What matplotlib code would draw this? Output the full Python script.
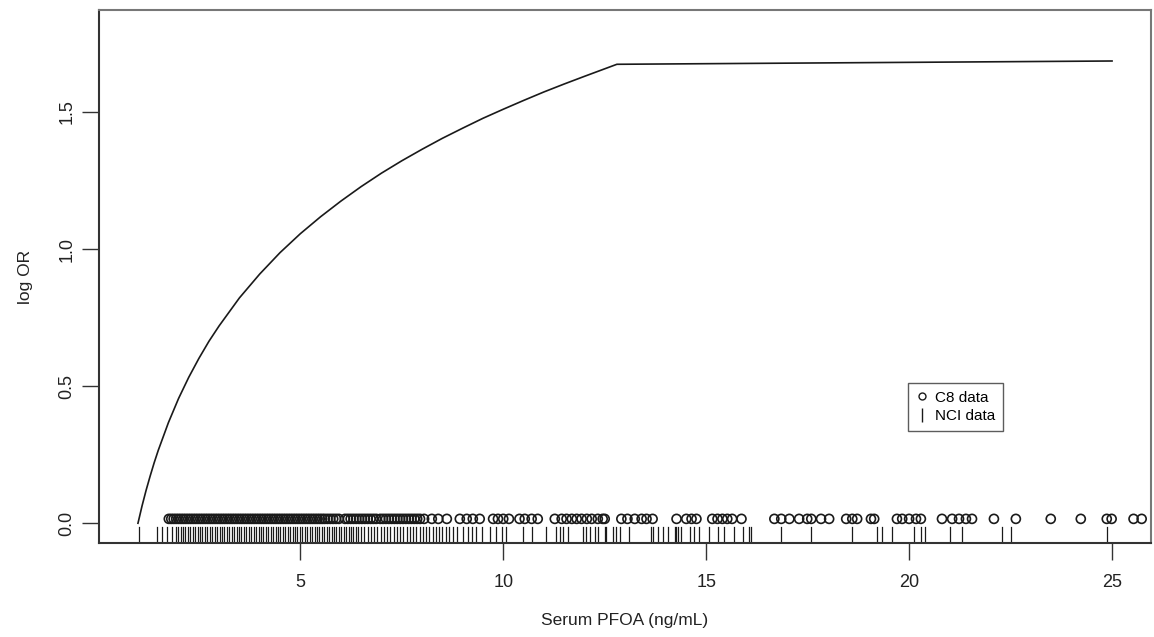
import matplotlib
matplotlib.use("Agg")
import matplotlib.pyplot as plt
from matplotlib.lines import Line2D

plt.rcParams['font.family'] = ['Liberation Sans', 'DejaVu Sans']

# fitted curve (log OR vs serum PFOA)
curve_x = [1.0, 1.1, 1.2, 1.3, 1.4, 1.5, 1.75, 2.0, 2.25, 2.5, 2.75, 3.0, 3.5, 4.0, 4.5, 5.0, 5.5,
           6.0, 6.5, 7.0, 7.5, 8.0, 8.5, 9.0, 9.5, 10.0, 10.5, 11.0, 11.5, 12.0, 12.4, 12.8, 25.0]
curve_y = [0.000, 0.063, 0.120, 0.172, 0.221, 0.266, 0.367, 0.455, 0.532, 0.601, 0.664, 0.720,
           0.822, 0.909, 0.987, 1.056, 1.118, 1.175, 1.228, 1.277, 1.322, 1.364, 1.404, 1.441,
           1.477, 1.510, 1.542, 1.573, 1.602, 1.630, 1.652, 1.674, 1.686]

# C8 data (circles)
c8_x = [1.76, 1.82, 1.88, 1.94, 2.00, 2.06, 2.12, 2.18, 2.24, 2.30, 2.36, 2.42, 2.48, 2.54, 2.60,
        2.66, 2.72, 2.78, 2.84, 2.90, 2.96, 3.02, 3.08, 3.14, 3.20, 3.26, 3.32, 3.38, 3.44, 3.50,
        3.56, 3.62, 3.68, 3.74, 3.80, 3.86, 3.92, 3.98, 4.04, 4.10, 4.16, 4.22, 4.28, 4.34, 4.40,
        4.46, 4.52, 4.58, 4.64, 4.70, 4.76, 4.82, 4.88, 4.94, 5.00, 5.06, 5.12, 5.18, 5.24, 5.30,
        5.36, 5.42, 5.48, 5.54, 5.60, 5.67, 5.74, 5.81, 5.88, 5.95,
        6.10, 6.17, 6.24, 6.31, 6.38, 6.45, 6.52, 6.59, 6.66, 6.73, 6.80, 6.87,
        6.97, 7.04, 7.11, 7.18, 7.25, 7.32, 7.39, 7.46, 7.53, 7.60, 7.67, 7.74, 7.81, 7.88, 7.95,
        8.05, 8.24, 8.40, 8.61, 8.93, 9.10, 9.25, 9.42, 9.75, 9.87, 10.00, 10.14,
        10.40, 10.53, 10.70, 10.85, 11.27, 11.44, 11.56, 11.69, 11.81, 11.93,
        12.06, 12.18, 12.33, 12.45, 12.50, 12.91, 13.06, 13.24, 13.41, 13.53, 13.68,
        14.27, 14.51, 14.64, 14.76, 15.15, 15.28, 15.40, 15.52, 15.64, 15.87,
        16.68, 16.85, 17.05, 17.29, 17.49, 17.59, 17.83, 18.03, 18.45, 18.60, 18.72,
        19.06, 19.14, 19.70, 19.83, 20.00, 20.17, 20.29, 20.81, 21.06, 21.23, 21.40, 21.55,
        22.09, 22.63, 23.49, 24.23, 24.87, 24.99, 25.53, 25.73]
c8_y = 0.016

# NCI data (rug)
nci_x = [1.02, 1.48, 1.60, 1.72, 1.84,
         1.93, 1.99, 2.05, 2.11, 2.17, 2.23, 2.29, 2.35, 2.41, 2.47, 2.53, 2.59, 2.65, 2.71, 2.77,
         2.83, 2.89, 2.95, 3.01, 3.07, 3.13, 3.19, 3.25, 3.31, 3.37, 3.43, 3.49, 3.55, 3.61, 3.67,
         3.73, 3.79, 3.85, 3.91, 3.97, 4.03, 4.09, 4.15, 4.21, 4.27, 4.33, 4.39, 4.45, 4.51, 4.57,
         4.63, 4.69, 4.75, 4.81, 4.87, 4.93, 4.99, 5.05, 5.11, 5.17, 5.23, 5.29, 5.35, 5.41, 5.47,
         5.53, 5.59, 5.65, 5.71, 5.77, 5.83, 5.89, 5.95, 6.01, 6.07, 6.13, 6.19, 6.25, 6.31, 6.37,
         6.43, 6.50, 6.58, 6.66, 6.74, 6.82, 6.90, 6.98, 7.06, 7.14, 7.22, 7.30, 7.38, 7.46, 7.54,
         7.62, 7.70, 7.78, 7.86, 7.94, 8.02, 8.10, 8.18, 8.26, 8.34, 8.42, 8.50, 8.58, 8.66,
         8.77, 8.85, 9.01, 9.14, 9.22, 9.34, 9.47, 9.67, 9.83, 9.96, 10.08, 10.49, 10.70, 11.06,
         11.31, 11.39, 11.47, 11.60, 11.96, 12.05, 12.13, 12.25, 12.33, 12.54,
         12.50, 12.70, 12.79, 12.87, 13.11, 13.65, 13.69, 13.81, 13.93, 14.06, 14.22, 14.26, 14.30,
         14.38, 14.59, 14.71, 14.83, 15.08, 15.29, 15.45, 15.69, 15.90, 16.06, 16.10, 16.84, 17.59,
         18.60, 19.22, 19.34, 19.59, 20.12, 20.29, 20.39, 21.00, 21.31, 22.29, 22.50, 24.87]

x_ticks = [5, 10, 15, 20, 25]
y_ticks = [0.0, 0.5, 1.0, 1.5]
y_tick_labels = ["0.0", "0.5", "1.0", "1.5"]

fig = plt.figure(figsize=(11.54, 6.37), dpi=100)
ax = fig.add_axes([99 / 1154, 94 / 637, 1052 / 1154, 533 / 637])

ax.plot(curve_x, curve_y, color='#1a1a1a', lw=1.2)
ax.scatter(c8_x, [c8_y] * len(c8_x), s=42, facecolors='none', edgecolors='#1a1a1a', linewidths=1.2, zorder=3)
for xv in nci_x:
    ax.axvline(xv, ymin=0, ymax=0.03, color='#1a1a1a', lw=0.9)

ax.set_xlim(0.04, 25.96)
ax.set_ylim(-0.072, 1.872)
ax.set_xticks(x_ticks)
ax.set_yticks(y_ticks)
ax.set_yticklabels(y_tick_labels, rotation=90, va='center')
ax.tick_params(axis='both', length=12, width=1, color='#333333', labelsize=13, labelcolor='#222222')
ax.tick_params(axis='x', pad=10)
ax.tick_params(axis='y', pad=5)

for side in ['top', 'right']:
    ax.spines[side].set_color('#777777')
    ax.spines[side].set_linewidth(1.5)
for side in ['left', 'bottom']:
    ax.spines[side].set_color('#333333')
    ax.spines[side].set_linewidth(1.5)

ax.set_xlabel("Serum PFOA (ng/mL)", fontsize=12.5, color='#222222', labelpad=16)
ax.set_ylabel("log OR", fontsize=12.5, color='#222222', labelpad=18)

handles = [
    Line2D([], [], marker='o', linestyle='none', markerfacecolor='none', markeredgecolor='#1a1a1a', markersize=5),
    Line2D([], [], marker='|', linestyle='none', color='#1a1a1a', markersize=10),
]
leg = ax.legend(handles, ["C8 data", "NCI data"], loc='upper left', bbox_to_anchor=(0.769, 0.300),
                fontsize=11, frameon=True, fancybox=False, handlelength=0.8, handletextpad=0.5,
                borderpad=0.5, labelspacing=0.3, borderaxespad=0)
leg.get_frame().set_edgecolor('#333333')
leg.get_frame().set_linewidth(1.0)

fig.savefig("out.png", dpi=100)
